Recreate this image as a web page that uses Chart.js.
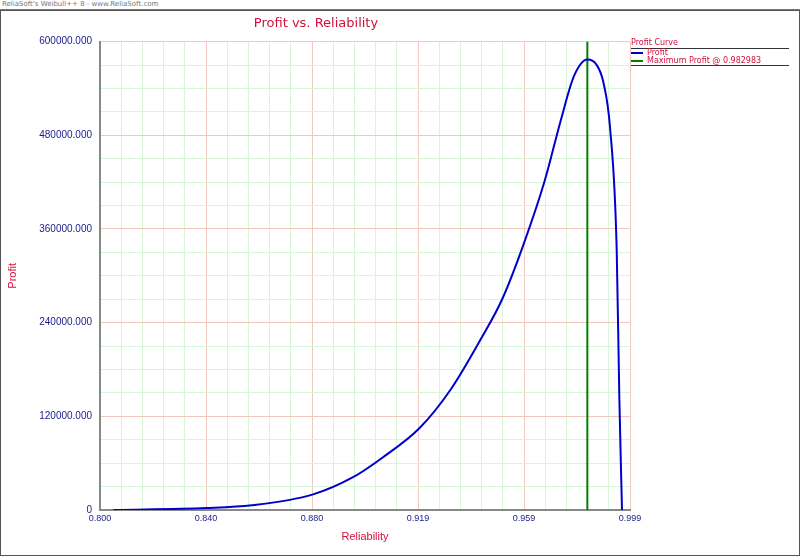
<!DOCTYPE html>
<html><head><meta charset="utf-8">
<script src="https://cdn.jsdelivr.net/npm/chart.js@4"></script>
<style>
body{margin:0;background:#fff;font-family:"DejaVu Sans",sans-serif;}
#wrap{position:relative;width:800px;height:556px;}
#hdr{position:absolute;left:0;top:0;width:800px;height:9px;border-bottom:1px solid #777;font-size:7px;color:#777;padding-left:2px;line-height:9px;}
#frame{position:absolute;left:0;top:10px;width:798px;height:544px;border:1px solid #555;}
#leg{position:absolute;left:631px;top:38px;width:158px;font-size:8px;color:#d0103a;}
#leg .h{border-bottom:1px solid #333;padding-bottom:1px;}
#leg .r{display:flex;align-items:center;line-height:8px;}
#leg .r span{display:inline-block;width:12px;height:2px;margin-right:4px;}
</style></head><body>
<div id="wrap">
<div id="hdr">ReliaSoft's Weibull++ 8 - www.ReliaSoft.com</div>
<div id="frame"></div>
<canvas id="c" width="800" height="556" style="position:absolute;left:0;top:0"></canvas>
<div id="leg"><div class="h">Profit Curve</div>
<div class="r"><span style="background:#0000cc"></span>Profit</div>
<div class="r" style="border-bottom:1px solid #333"><span style="background:#008000"></span>Maximum Profit @ 0.982983</div></div>
</div>
<script>
const reliability = [0.805,0.840,0.857,0.880,0.895,0.906,0.920,0.932,0.943,0.951,0.959,0.967,0.973,0.978,0.9830,0.9865,0.989,0.9915,0.994,0.995,0.996];
const profit = [0,2500,6000,20000,42000,67000,105000,156000,219000,270000,340000,422000,499000,556000,577000,570000,548000,490000,334000,143000,0];
const maxReliability = 0.982983;
const xTickLabels = ['0.800','0.840','0.880','0.919','0.959','0.999'];
const yTickLabels = ['0','120000.000','240000.000','360000.000','480000.000','600000.000'];

const xMin = 0.8, xMax = 0.999, xStep = (xMax - xMin) / 25;
const navy = '#1a1a8c', red = '#d0103a';
const gridColor = ctx => (ctx.index % (ctx.scale.axis === 'x' ? 5 : 4) === 0) ? '#f0c8c0' : '#d8f5d8';

new Chart(document.getElementById('c'), {
  type: 'line',
  data: {
    datasets: [
      { label: 'Profit', data: reliability.map((r, i) => ({x: r, y: profit[i]})),
        borderColor: '#0000cc', borderWidth: 2, pointRadius: 0, cubicInterpolationMode: 'monotone' },
      { label: 'Max', data: [{x: maxReliability, y: 0}, {x: maxReliability, y: 600000}],
        borderColor: '#008000', borderWidth: 2, pointRadius: 0 }
    ]
  },
  options: {
    responsive: false, animation: false,
    layout: { padding: { left: 2, right: 170, top: 6, bottom: 8 } },
    plugins: {
      legend: { display: false }, tooltip: { enabled: false },
      title: { display: true, text: 'Profit vs. Reliability', color: red,
        font: { family: 'DejaVu Sans', size: 13, weight: 'normal' }, padding: { top: 10, bottom: 10 } }
    },
    scales: {
      x: { type: 'linear', min: xMin, max: xMax,
        afterBuildTicks: s => { s.ticks = []; for (let i = 0; i <= 25; i++) s.ticks.push({value: xMin + i * xStep}); },
        ticks: { color: navy, font: { size: 9 }, autoSkip: false, maxRotation: 0,
          callback: (v, i) => i % 5 === 0 ? xTickLabels[i / 5] : '' },
        grid: { color: gridColor, drawTicks: false },
        border: { color: '#888', width: 2 },
        title: { display: true, text: 'Reliability', color: red, font: { size: 11 } } },
      y: { min: 0, max: 600000,
        afterBuildTicks: s => { s.ticks = []; for (let i = 0; i <= 20; i++) s.ticks.push({value: i * 30000}); },
        ticks: { color: navy, font: { size: 10 }, autoSkip: false, padding: 8,
          callback: (v, i) => i % 4 === 0 ? yTickLabels[i / 4] : '' },
        grid: { color: gridColor, drawTicks: false },
        border: { color: '#888', width: 2 },
        title: { display: true, text: 'Profit', color: red, font: { size: 11 }, padding: { top: 4, bottom: 12 } } }
    }
  }
});
</script>
</body></html>
